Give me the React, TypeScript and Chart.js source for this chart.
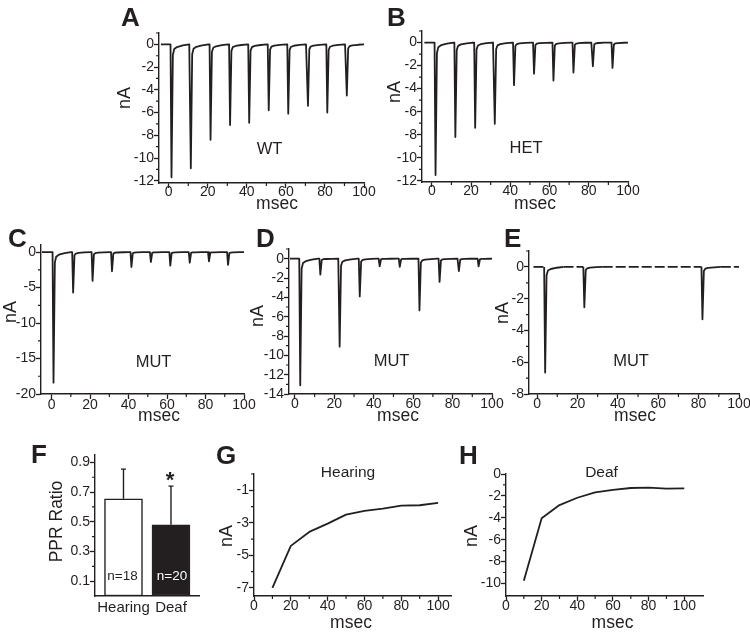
import React, { useEffect, useRef } from 'react';
import { Chart, registerables } from 'chart.js';

Chart.register(...registerables);

const W = 750;
const H = 632;
const FONT = "'Liberation Sans', Arial, Helvetica, sans-serif";
const INK = '#231f20';

// ---------- Data: recorded EPSC trains (spike times in msec, peak amplitudes in nA) ----------
const A_TIMES = [1.2, 11.1, 21.2, 31.2, 41.0, 51.0, 61.0, 71.1, 81.0, 91.0];
const A_PEAKS = [-11.7, -10.9, -8.4, -7.1, -6.9, -5.8, -6.1, -5.4, -6.0, -4.5];

const B_TIMES = [1.7, 11.8, 21.9, 31.9, 41.7, 51.9, 61.8, 72.0, 81.9, 91.9];
const B_PEAKS = [-11.5, -8.2, -7.4, -7.05, -3.7, -2.7, -3.3, -2.6, -2.06, -2.2];

const C_TIMES = [0.8, 11.0, 21.1, 31.2, 41.3, 51.4, 61.5, 71.6, 81.6, 91.5];
const C_PEAKS = [-18.4, -5.7, -4.05, -2.7, -2.1, -1.4, -1.9, -1.5, -1.3, -1.8];

const D_TIMES = [2.5, 12.7, 22.5, 32.7, 42.8, 53.0, 63.0, 73.2, 83.0, 93.0];
const D_PEAKS = [-13.1, -1.65, -9.1, -3.9, -0.8, -0.85, -5.35, -2.4, -1.28, -0.8];

const E_TIMES = [3.8, 23.2, 81.7];
const E_PEAKS = [-6.65, -2.54, -3.3];

// shape of a single EPSC (time offset in msec, fraction of peak)
const SPIKE_DT = [-0.3, 0.2, 0.9, 1.6, 3, 6, 9.3];
const SPIKE_FRAC = [0, 1, 0.08, 0.035, 0.02, 0.008, 0];

// ---------- Data: PPR ----------
const PPR_GROUPS = ['Hearing', 'Deaf'];
const PPR_MEANS = [0.655, 0.48];
const PPR_SD = [0.2, 0.26];
const PPR_N = ['n=18', 'n=20'];

// ---------- Data: amplitude vs interval ----------
const INTERVAL_MSEC = [10, 20, 30, 40, 50, 60, 70, 80, 90, 100];
const G_HEARING_NA = [-7.0, -4.42, -3.56, -3.05, -2.5, -2.27, -2.13, -1.94, -1.92, -1.78];
const H_DEAF_NA = [-9.76, -4.05, -2.84, -2.17, -1.67, -1.46, -1.28, -1.25, -1.34, -1.31];

// ---------- Tick values ----------
const MSEC_MAJOR = [0, 20, 40, 60, 80, 100];
const MSEC_MINOR = [10, 30, 50, 70, 90];
const AB_Y_MAJOR = [0, -2, -4, -6, -8, -10, -12];
const AB_Y_MINOR = [1, -1, -3, -5, -7, -9, -11];
const C_Y_MAJOR = [0, -5, -10, -15, -20];
const C_Y_MINOR = [-2.5, -7.5, -12.5, -17.5];
const D_Y_MAJOR = [0, -2, -4, -6, -8, -10, -12, -14];
const D_Y_MINOR = [1, -1, -3, -5, -7, -9, -11, -13];
const E_Y_MAJOR = [0, -2, -4, -6, -8];
const E_Y_MINOR = [1, -1, -3, -5, -7];
const F_Y_MAJOR = [0.9, 0.7, 0.5, 0.3, 0.1];
const F_Y_MINOR = [0.8, 0.6, 0.4, 0.2];
const G_Y_MAJOR = [-1, -3, -5, -7];
const G_Y_MINOR = [0, -2, -4, -6];
const H_Y_MAJOR = [0, -2, -4, -6, -8, -10];
const H_Y_MINOR = [-1, -3, -5, -7, -9];

type Pt = { x: number; y: number };
type Txt = { s: string; x: number; y: number; size: number; bold?: boolean; rot?: boolean; color?: string; align?: CanvasTextAlign };
type Area = { l: number; t: number; r: number; b: number; xPad: number };

function buildTrace(start: number, end: number, times: number[], peaks: number[]): Pt[] {
  const pts: Pt[] = [{ x: start, y: 0 }];
  times.forEach((t, i) => {
    SPIKE_DT.forEach((dt, k) => pts.push({ x: t + dt, y: peaks[i] * SPIKE_FRAC[k] }));
  });
  pts.push({ x: end, y: 0 });
  return pts;
}

function makeScale(axis: 'x' | 'y', min: number, max: number, major: number[], fmt: (v: number) => string, fit: number, o: any = {}) {
  return {
    type: 'linear',
    position: axis === 'x' ? 'bottom' : 'left',
    min,
    max,
    bounds: 'data',
    offset: false,
    afterBuildTicks: (s: any) => {
      s.ticks = major.map((v) => ({ value: v }));
    },
    afterFit: (s: any) => {
      if (axis === 'x') s.height = fit;
      else s.width = fit;
    },
    grid: {
      display: true,
      drawOnChartArea: false,
      drawTicks: o.drawTicks ?? true,
      tickLength: 5,
      tickWidth: 1.3,
      tickColor: INK,
      offset: false,
    },
    border: { display: true, color: INK, width: 1.4 },
    ticks: {
      autoSkip: false,
      maxRotation: 0,
      minRotation: 0,
      padding: o.padding ?? 0,
      color: INK,
      font: { family: FONT, size: o.size ?? 14 },
      callback: (v: any) => fmt(Number(v)),
    },
  };
}

function makePlugin(texts: Txt[], minorX: number[], minorY: number[], errors?: number[]) {
  return {
    id: 'panelDecor',
    afterDatasetsDraw(chart: any) {
      if (!errors) return;
      const ctx = chart.ctx;
      const ys = chart.scales.y;
      const meta = chart.getDatasetMeta(0);
      ctx.save();
      ctx.strokeStyle = INK;
      ctx.lineWidth = 1.4;
      meta.data.forEach((el: any, i: number) => {
        const top = ys.getPixelForValue(PPR_MEANS[i] + errors[i]);
        ctx.beginPath();
        ctx.moveTo(el.x, el.y);
        ctx.lineTo(el.x, top);
        ctx.moveTo(el.x - 2.5, top);
        ctx.lineTo(el.x + 2.5, top);
        ctx.stroke();
      });
      ctx.restore();
    },
    afterDraw(chart: any) {
      const ctx = chart.ctx;
      const xs = chart.scales.x;
      const ys = chart.scales.y;
      ctx.save();
      ctx.strokeStyle = INK;
      ctx.lineWidth = 1.2;
      ctx.beginPath();
      minorX.forEach((v) => {
        const px = xs.getPixelForValue(v);
        ctx.moveTo(px, xs.top);
        ctx.lineTo(px, xs.top + 3);
      });
      minorY.forEach((v) => {
        const py = ys.getPixelForValue(v);
        ctx.moveTo(ys.right - 3, py);
        ctx.lineTo(ys.right, py);
      });
      ctx.stroke();
      texts.forEach((t) => {
        ctx.save();
        ctx.font = `${t.bold ? 'bold ' : ''}${t.size}px ${FONT}`;
        ctx.fillStyle = t.color ?? INK;
        ctx.textAlign = t.align ?? 'center';
        if (t.rot) {
          ctx.translate(t.x, t.y);
          ctx.rotate(-Math.PI / 2);
          ctx.textBaseline = 'middle';
          ctx.fillText(t.s, 0, 0);
        } else {
          ctx.textBaseline = 'alphabetic';
          ctx.fillText(t.s, t.x, t.y);
        }
        ctx.restore();
      });
      ctx.restore();
    },
  };
}

function baseOptions(area: Area, scales: any) {
  return {
    responsive: false,
    maintainAspectRatio: false,
    animation: false,
    events: [],
    layout: { padding: { left: 0, top: area.t, right: W - area.r, bottom: 0 } },
    plugins: { legend: { display: false }, tooltip: { enabled: false }, title: { display: false } },
    scales,
  };
}

const intFmt = (v: number) => String(v);

function tracePanel(
  area: Area,
  xr: [number, number],
  yr: [number, number],
  yMajor: number[],
  yMinor: number[],
  points: Pt[],
  texts: Txt[],
  dashed = false
) {
  return () => ({
    type: 'line',
    data: {
      datasets: [
        {
          data: points,
          borderColor: INK,
          borderWidth: 1.8,
          pointRadius: 0,
          fill: false,
          tension: 0,
          borderJoinStyle: 'round',
          borderCapStyle: 'butt',
          segment: dashed
            ? { borderDash: (c: any) => (c.p0.parsed.y === 0 && c.p1.parsed.y === 0 ? [10, 3] : undefined) }
            : undefined,
        },
      ],
    },
    options: baseOptions(area, {
      x: makeScale('x', xr[0], xr[1], MSEC_MAJOR, intFmt, H - area.b, { padding: area.xPad }),
      y: makeScale('y', yr[0], yr[1], yMajor, intFmt, area.l),
    }),
    plugins: [makePlugin(texts, MSEC_MINOR, yMinor)],
  });
}

function ioPanel(area: Area, xr: [number, number], yr: [number, number], yMajor: number[], yMinor: number[], values: number[], texts: Txt[]) {
  return () => ({
    type: 'line',
    data: {
      datasets: [
        {
          data: INTERVAL_MSEC.map((x, i) => ({ x, y: values[i] })),
          borderColor: INK,
          borderWidth: 1.8,
          pointRadius: 0,
          fill: false,
          tension: 0,
          borderJoinStyle: 'round',
        },
      ],
    },
    options: baseOptions(area, {
      x: makeScale('x', xr[0], xr[1], MSEC_MAJOR, intFmt, H - area.b, { padding: area.xPad }),
      y: makeScale('y', yr[0], yr[1], yMajor, intFmt, area.l),
    }),
    plugins: [makePlugin(texts, MSEC_MINOR, yMinor)],
  });
}

const nA = (x: number, y: number): Txt => ({ s: 'nA', x, y, size: 18, rot: true });
const msec = (x: number, y: number): Txt => ({ s: 'msec', x, y, size: 17.5 });
const letter = (s: string, x: number, y: number): Txt => ({ s, x, y, size: 26, bold: true, align: 'left' });

const AREA_A: Area = { l: 159, t: 33, r: 364, b: 183, xPad: -4 };
const AREA_B: Area = { l: 422, t: 31, r: 628, b: 182, xPad: -4 };
const AREA_C: Area = { l: 41, t: 245, r: 244, b: 394, xPad: -2.5 };
const AREA_D: Area = { l: 289, t: 249, r: 492, b: 394, xPad: -3.5 };
const AREA_E: Area = { l: 529, t: 251, r: 739, b: 394, xPad: -3.5 };
const AREA_F: Area = { l: 95, t: 455, r: 199, b: 596, xPad: 3 };
const AREA_G: Area = { l: 254, t: 474, r: 451, b: 596, xPad: -3 };
const AREA_H: Area = { l: 506, t: 474, r: 703, b: 596, xPad: -3 };

const buildA = tracePanel(AREA_A, [-5, 100], [-12.2, 1], AB_Y_MAJOR, AB_Y_MINOR, buildTrace(-4, 100, A_TIMES, A_PEAKS), [
  letter('A', 121, 26),
  nA(125, 98),
  { s: 'WT', x: 269.5, y: 154, size: 16.5 },
  msec(277, 208.5),
]);

const buildB = tracePanel(AREA_B, [-5, 100], [-12.1, 1], AB_Y_MAJOR, AB_Y_MINOR, buildTrace(-3.8, 100, B_TIMES, B_PEAKS), [
  letter('B', 387, 26),
  nA(395, 92),
  { s: 'HET', x: 526, y: 153, size: 16.5 },
  msec(535, 208.5),
]);

const buildC = tracePanel(AREA_C, [-5.5, 100], [-20, 1], C_Y_MAJOR, C_Y_MINOR, buildTrace(-5, 100, C_TIMES, C_PEAKS), [
  letter('C', 8, 247),
  nA(11, 312),
  { s: 'MUT', x: 153.5, y: 367, size: 16.5 },
  msec(159, 420.5),
]);

const buildD = tracePanel(AREA_D, [-3, 100], [-14, 1], D_Y_MAJOR, D_Y_MINOR, buildTrace(-2.5, 100, D_TIMES, D_PEAKS), [
  letter('D', 256, 247),
  nA(258, 316),
  { s: 'MUT', x: 391.5, y: 366, size: 16.5 },
  msec(398, 420.5),
]);

const buildE = tracePanel(
  AREA_E,
  [-4, 100],
  [-8, 1],
  E_Y_MAJOR,
  E_Y_MINOR,
  buildTrace(-1.8, 100, E_TIMES, E_PEAKS),
  [letter('E', 504, 247), nA(503, 313), { s: 'MUT', x: 631, y: 366, size: 16.5 }, msec(635, 420.5)],
  true
);

const buildF = () => ({
  type: 'bar',
  data: {
    datasets: [
      {
        data: PPR_MEANS.map((y, i) => ({ x: i, y })),
        backgroundColor: ['#ffffff', INK],
        borderColor: INK,
        borderWidth: 1.5,
        borderSkipped: false,
        barThickness: 38,
      },
    ],
  },
  options: baseOptions(AREA_F, {
    x: makeScale('x', -0.6, 1.59, [0, 1], (v) => PPR_GROUPS[Math.round(v)] ?? '', H - AREA_F.b, { drawTicks: false, padding: AREA_F.xPad, size: 15 }),
    y: makeScale('y', 0, 0.95, F_Y_MAJOR, (v) => v.toFixed(1), AREA_F.l),
  }),
  plugins: [
    makePlugin(
      [
        letter('F', 31, 463),
        { s: 'PPR Ratio', x: 57.5, y: 521.5, size: 17.5, rot: true },
        { s: PPR_N[0], x: 122.5, y: 580, size: 13.5 },
        { s: PPR_N[1], x: 172, y: 580, size: 13.5, color: '#ffffff' },
        { s: '*', x: 170, y: 487, size: 22, bold: true },
      ],
      [],
      F_Y_MINOR,
      PPR_SD
    ),
  ],
});

const buildG = ioPanel(AREA_G, [0, 107], [-7.5, 0], G_Y_MAJOR, G_Y_MINOR, G_HEARING_NA, [
  letter('G', 216, 464),
  { s: 'Hearing', x: 348, y: 477, size: 15.5 },
  nA(227.5, 536),
  msec(351, 627.5),
]);

const buildH = ioPanel(AREA_H, [0, 110.5], [-11.15, 0], H_Y_MAJOR, H_Y_MINOR, H_DEAF_NA, [
  letter('H', 459, 464),
  { s: 'Deaf', x: 601.5, y: 477, size: 15.5 },
  nA(472.5, 536),
  msec(612.5, 627.5),
]);

const PANELS = [
  { key: 'A', build: buildA },
  { key: 'B', build: buildB },
  { key: 'C', build: buildC },
  { key: 'D', build: buildD },
  { key: 'E', build: buildE },
  { key: 'F', build: buildF },
  { key: 'G', build: buildG },
  { key: 'H', build: buildH },
];

function PanelCanvas({ build }: { build: () => any }) {
  const ref = useRef<HTMLCanvasElement>(null);
  useEffect(() => {
    if (!ref.current) return;
    const chart = new Chart(ref.current, build());
    return () => chart.destroy();
  }, [build]);
  return (
    <canvas
      ref={ref}
      width={W}
      height={H}
      style={{ position: 'absolute', left: 0, top: 0, width: W, height: H }}
    />
  );
}

export default function App() {
  return (
    <div style={{ position: 'absolute', left: 0, top: 0, width: W, height: H, background: '#ffffff', overflow: 'hidden' }}>
      {PANELS.map((p) => (
        <PanelCanvas key={p.key} build={p.build} />
      ))}
    </div>
  );
}
